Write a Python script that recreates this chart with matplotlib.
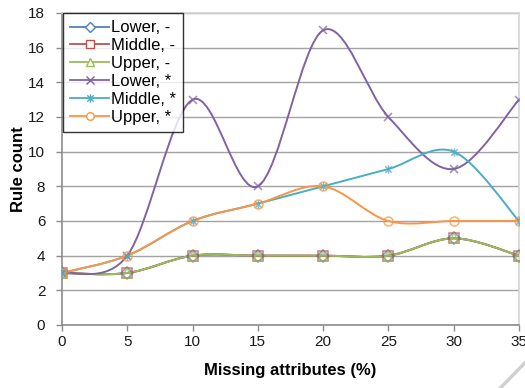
import numpy as np
import matplotlib
matplotlib.use("Agg")
import matplotlib.pyplot as plt
from matplotlib.path import Path
from matplotlib.patches import PathPatch
from matplotlib.lines import Line2D

plt.rcParams['font.family'] = ['Liberation Sans', 'DejaVu Sans']

# data
missing = [0, 5, 10, 15, 20, 25, 30, 35]
lower_dash = [3, 3, 4, 4, 4, 4, 5, 4]
middle_dash = [3, 3, 4, 4, 4, 4, 5, 4]
upper_dash = [3, 3, 4, 4, 4, 4, 5, 4]
lower_star = [3, 4, 13, 8, 17, 12, 9, 13]
middle_star = [3, 4, 6, 7, 8, 9, 10, 6]
upper_star = [3, 4, 6, 7, 8, 6, 6, 6]

series = [
    ("Lower, -", lower_dash, "#4F81BD", "D"),
    ("Middle, -", middle_dash, "#C0504D", "s"),
    ("Upper, -", upper_dash, "#9BBB59", "^"),
    ("Lower, *", lower_star, "#8064A2", "x"),
    ("Middle, *", middle_star, "#4BACC6", "star"),
    ("Upper, *", upper_star, "#F79646", "o"),
]

# excel-like smoothed line: cubic bezier segments through the points
def smooth_path(x, y):
    x = np.asarray(x, float)
    y = np.asarray(y, float)
    n = len(x)
    verts = [(x[0], y[0])]
    codes = [Path.MOVETO]
    for i in range(n - 1):
        i0 = max(i - 1, 0)
        i3 = min(i + 2, n - 1)
        c1 = (x[i] + (x[i + 1] - x[i0]) / 6, y[i] + (y[i + 1] - y[i0]) / 6)
        c2 = (x[i + 1] - (x[i3] - x[i]) / 6, y[i + 1] - (y[i3] - y[i]) / 6)
        verts += [c1, c2, (x[i + 1], y[i + 1])]
        codes += [Path.CURVE4] * 3
    return Path(verts, codes)

star_marker = Path(
    [(-1, -1), (1, 1), (-1, 1), (1, -1), (0, -1.3), (0, 1.3)],
    [Path.MOVETO, Path.LINETO, Path.MOVETO, Path.LINETO, Path.MOVETO, Path.LINETO])

fig = plt.figure(figsize=(5.25, 3.88), dpi=100)
ax = fig.add_axes([0.118, 0.1624, 0.8706, 0.8041])

handles = []
for label, vals, color, mk in series:
    ax.add_patch(PathPatch(smooth_path(missing, vals), facecolor='none',
                           edgecolor=color, lw=1.4, zorder=3))
    marker = star_marker if mk == "star" else mk
    if mk in ("x", "star"):
        ms, mfc = 6, color
    else:
        ms, mfc = 6.5, 'none'
    ax.plot(missing, vals, linestyle='none', marker=marker, markersize=ms,
            markerfacecolor=mfc, markeredgecolor=color, markeredgewidth=1.1,
            alpha=0.75, zorder=4)
    handles.append(Line2D([], [], color=color, lw=1.3, marker=marker,
                          markersize=6 if mk in ("x", "star") else 5.5,
                          markerfacecolor=mfc if mk in ("x", "star") else 'white',
                          markeredgecolor=color, markeredgewidth=1.0, label=label))

ax.set_xlim(0, 35)
ax.set_ylim(0, 18)
ax.set_xticks(missing)
ax.set_yticks(range(0, 19, 2))
ax.grid(axis='y', color='#A3A3A3', lw=1.0)
ax.set_axisbelow(True)
ax.tick_params(axis='both', direction='out', length=4, width=1, color='#8C8C8C',
               labelsize=11, labelcolor='#1A1A1A')
ax.tick_params(axis='x', pad=3)
ax.tick_params(axis='y', pad=8)
for side in ['left', 'bottom']:
    ax.spines[side].set_color('#8C8C8C')
    ax.spines[side].set_linewidth(1.2)
for side in ['top', 'right']:
    ax.spines[side].set_color('#D4D4D4')
    ax.spines[side].set_linewidth(1.2)

ax.set_xlabel("Missing attributes (%)", fontsize=12, fontweight='bold', labelpad=10)
ax.set_ylabel("Rule count", fontsize=12, fontweight='bold', labelpad=2)

leg = ax.legend(handles=handles, loc='upper left', bbox_to_anchor=(0.002, 1.0),
                borderaxespad=0, fontsize=12, frameon=True, fancybox=False,
                handlelength=2.3, handletextpad=0.12, labelspacing=0.17,
                borderpad=0.45)
leg.get_frame().set_edgecolor('black')
leg.get_frame().set_linewidth(1.0)
leg.set_zorder(5)

# page-corner shadow seen in the scan
fig.add_artist(Line2D([0.953, 1.0], [0.0, 0.065], transform=fig.transFigure,
                      color='#D0D0D0', lw=2.5))

fig.savefig("out.png", dpi=100)
